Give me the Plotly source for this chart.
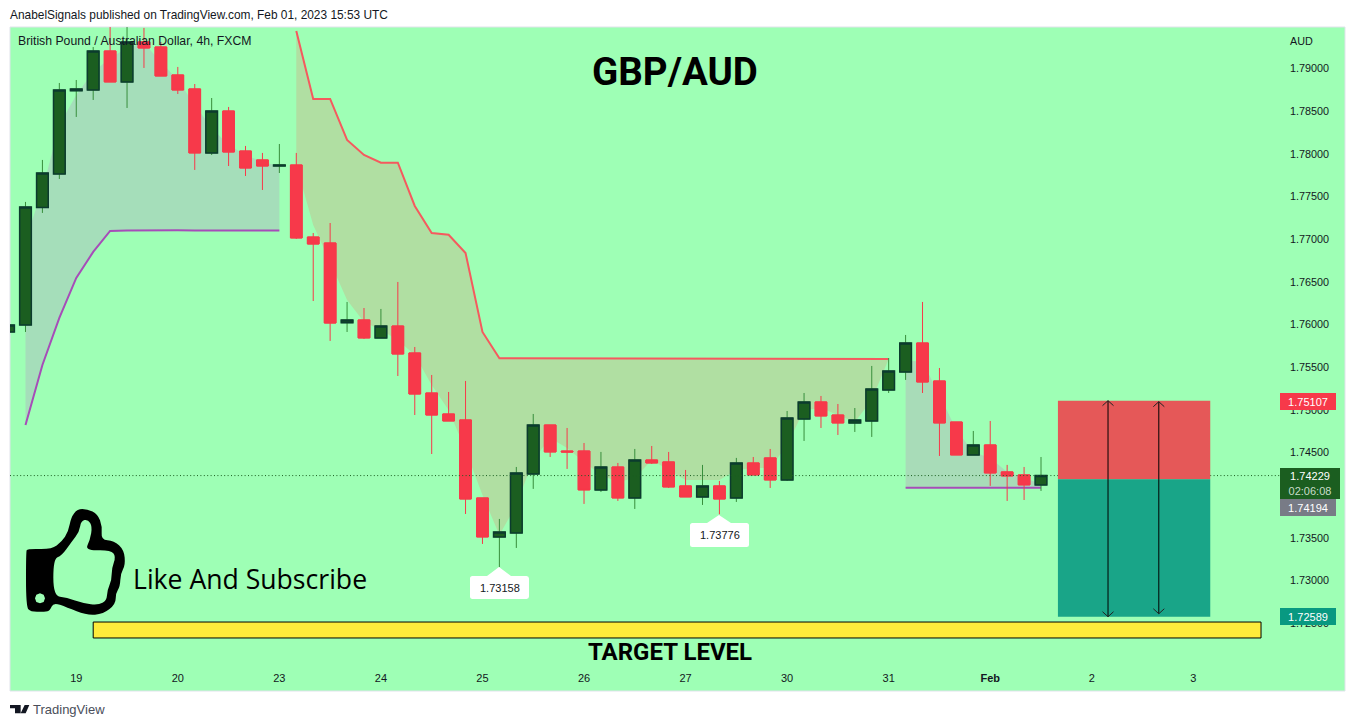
import plotly.graph_objects as go

W, H = 1354, 727
FONT = "Liberation Sans"
BG = "#9EFFB5"

# ---------- candle data (4h bars, index = bar number) ----------
idx = list(range(-1, 61))
open_ = [1.75912,1.75994,1.77371,1.77764,1.78740,1.78748,1.79205,1.78842,1.79311,1.79252,1.78924,1.78760,1.78010,1.78502,1.78033,1.77928,1.77857,1.77869,1.77025,1.76955,1.76021,1.76053,1.75842,1.75982,1.75666,1.75197,1.74951,1.74881,1.73967,1.73510,1.73557,1.74248,1.74822,1.74517,1.74517,1.74061,1.74330,1.73967,1.74412,1.74389,1.74108,1.73979,1.74108,1.73967,1.74377,1.74436,1.74178,1.74892,1.75092,1.74939,1.74846,1.74869,1.75232,1.75443,1.75783,1.75338,1.74857,1.74471,1.74588,1.74272,1.74237,1.74120]
high_ = [1.75994,1.77436,1.77928,1.78830,1.78865,1.79252,1.79568,1.79545,1.79475,1.79311,1.79018,1.78818,1.78654,1.78549,1.78092,1.78010,1.78115,1.78010,1.77072,1.77189,1.76264,1.76193,1.76182,1.76498,1.75736,1.75408,1.75209,1.75338,1.73967,1.73721,1.74330,1.74951,1.74822,1.74787,1.74611,1.74506,1.74377,1.74541,1.74576,1.74506,1.74295,1.74354,1.74166,1.74436,1.74447,1.74541,1.74986,1.75197,1.75162,1.75068,1.75021,1.75514,1.75607,1.75877,1.76264,1.75490,1.74857,1.74752,1.74869,1.74354,1.74330,1.74447]
low_ = [1.75912,1.75912,1.77307,1.77705,1.78432,1.78631,1.78842,1.78537,1.79006,1.78912,1.78701,1.77811,1.77986,1.77857,1.77740,1.77576,1.77775,1.77002,1.76275,1.75807,1.75912,1.75830,1.75842,1.75396,1.74939,1.74482,1.74869,1.73779,1.73428,1.73158,1.73381,1.74073,1.74447,1.74307,1.73897,1.74037,1.73932,1.73838,1.74365,1.74084,1.73979,1.73885,1.73776,1.73920,1.74237,1.74084,1.74166,1.74635,1.74787,1.74705,1.74740,1.74682,1.75197,1.75350,1.75197,1.74459,1.74471,1.74471,1.74108,1.73932,1.73943,1.74049]
close_ = [1.75994,1.77377,1.77775,1.78748,1.78760,1.79205,1.78842,1.79311,1.79240,1.78912,1.78748,1.78010,1.78502,1.78021,1.77834,1.77857,1.77869,1.77014,1.76943,1.76017,1.76053,1.75842,1.75982,1.75654,1.75185,1.74939,1.74869,1.73955,1.73510,1.73568,1.74260,1.74822,1.74506,1.74506,1.74061,1.74330,1.73967,1.74412,1.74377,1.74096,1.73979,1.74108,1.73955,1.74377,1.74237,1.74178,1.74904,1.75092,1.74928,1.74846,1.74881,1.75244,1.75455,1.75783,1.75326,1.74846,1.74471,1.74588,1.74260,1.74225,1.74120,1.74229]

# ---------- indicator bands ----------
band1_x = list(range(0, 16))
band1_low = [1.74822,1.75525,1.76076,1.76545,1.76850,1.77096,1.77100,1.77104,1.77104,1.77104,1.77102,1.77102,1.77102,1.77102,1.77102,1.77102]
band1_up = [1.76990,1.77576,1.78338,1.78689,1.78959,1.79123,1.79240,1.79299,1.79076,1.78865,1.78572,1.78303,1.78104,1.77986,1.77904,1.77857]

band2_x = list(range(16, 52))
band2_up = [1.79439,1.78643,1.78643,1.78162,1.77986,1.77896,1.77896,1.77389,1.77072,1.77052,1.76838,1.75912,1.75604,1.75604,1.75604,1.75604,1.75604,1.75604,1.75604,1.75604,1.75604,1.75604,1.75604,1.75604,1.75604,1.75596,1.75596,1.75596,1.75596,1.75596,1.75596,1.75596,1.75596,1.75596,1.75596,1.75596]
band2_low = [1.77869,1.77166,1.76732,1.76287,1.76029,1.75935,1.75818,1.75642,1.75291,1.74998,1.74529,1.74002,1.73533,1.73885,1.74412,1.74670,1.74553,1.74389,1.74237,1.74154,1.74201,1.74412,1.74295,1.74178,1.74178,1.74178,1.74295,1.74318,1.74318,1.74588,1.74998,1.75021,1.74939,1.74857,1.75115,1.75596]

band3_x = list(range(52, 61))
band3_low = [1.74087,1.74087,1.74087,1.74087,1.74087,1.74087,1.74087,1.74087,1.74087]
band3_up = [1.75584,1.75560,1.75174,1.74764,1.74506,1.74436,1.74272,1.74201,1.74131]

# ---------- levels ----------
last_price = 1.74229
entry_price = 1.74185
stop_price = 1.75107
target_price = 1.72575
pos_start, pos_end = 61, 70
arrow_bars = [63.96, 66.96]
arrow_tops = [1.75107, 1.75095]
arrow_bottoms = [1.72575, 1.72610]
bar_start, bar_end = 4, 73
bar_top, bar_bottom = 1.72513, 1.72326

# ---------- axis labels ----------
price_ticks = [1.725,1.73,1.735,1.74,1.745,1.75,1.755,1.76,1.765,1.77,1.775,1.78,1.785,1.79]
day_ticks = [3,9,15,21,27,33,39,45,51,57,63,69]
day_labels = ["19","20","23","24","25","26","27","30","31","<b>Feb</b>","2","3"]

XRANGE = [-0.915, 74.18]
YRANGE = [1.72021, 1.79486]
DOMX = [10/W, 1281/W]
DOMY = [1-664/H, 1-27/H]

def X(p): return p/W
def Y(p): return 1-p/H
def path(pts, close=True):
    s = "M" + " L".join(f"{X(a):.5f},{Y(b):.5f}" for a, b in pts)
    return s + (" Z" if close else "")
def smooth(pts):
    n = len(pts)
    mid = lambda p, q: ((p[0]+q[0])/2, (p[1]+q[1])/2)
    m0 = mid(pts[-1], pts[0])
    s = f"M{X(m0[0]):.5f},{Y(m0[1]):.5f}"
    for i in range(n):
        m = mid(pts[i], pts[(i+1) % n])
        s += f" Q{X(pts[i][0]):.5f},{Y(pts[i][1]):.5f} {X(m[0]):.5f},{Y(m[1]):.5f}"
    return s + " Z"

fig = go.Figure()

# bands on the primary axes
def band(x, low, up, lowline, upline, fill):
    fig.add_trace(go.Scatter(x=x, y=low, mode="lines", hoverinfo="skip",
        line=dict(color=lowline or "rgba(0,0,0,0)", width=2 if lowline else 0)))
    fig.add_trace(go.Scatter(x=x, y=up, mode="lines", hoverinfo="skip", fill="tonexty", fillcolor=fill,
        line=dict(color=upline or "rgba(0,0,0,0)", width=2 if upline else 0)))

band(band1_x, band1_low, band1_up, "#A64DB8", None, "#A5DEBA")
band(band2_x, band2_low, band2_up, None, "#F55A5E", "#B0DFA2")
band(band3_x, band3_low, band3_up, "#A64DB8", None, "#A8DCB8")

# candles on an overlaying pair of axes so they sit above the bands
fig.add_trace(go.Candlestick(x=idx, open=open_, high=high_, low=low_, close=close_,
    xaxis="x2", yaxis="y2", whiskerwidth=0, hoverinfo="skip",
    increasing=dict(line=dict(color="#388E3C", width=1), fillcolor="rgba(0,0,0,0)"),
    decreasing=dict(line=dict(color="#F7394A", width=1), fillcolor="rgba(0,0,0,0)")))
body_hi = [max(a, b) for a, b in zip(open_, close_)]
body_lo = [min(a, b) for a, b in zip(open_, close_)]
fig.add_trace(go.Candlestick(x=idx, open=open_, high=body_hi, low=body_lo, close=close_,
    xaxis="x2", yaxis="y2", whiskerwidth=0, hoverinfo="skip",
    increasing=dict(line=dict(color="#0B3B2E", width=1.5), fillcolor="#1B5E20"),
    decreasing=dict(line=dict(color="#F7394A", width=1), fillcolor="#F7394A")))

shapes = [
    dict(type="rect", xref="paper", yref="paper", x0=X(10), x1=X(1345), y0=Y(691), y1=Y(27),
         fillcolor=BG, line=dict(color="#E0E3EB", width=1), layer="below"),
    dict(type="line", xref="paper", yref="y", x0=X(10), x1=X(1280), y0=last_price, y1=last_price,
         line=dict(color="#1B5E20", width=1, dash="1px,2.4px"), layer="above"),
    dict(type="rect", xref="x", yref="y", x0=pos_start, x1=pos_end, y0=entry_price, y1=stop_price,
         fillcolor="#E55858", line=dict(width=0), layer="above"),
    dict(type="rect", xref="x", yref="y", x0=pos_start, x1=pos_end, y0=target_price, y1=entry_price,
         fillcolor="#19A588", line=dict(width=0), layer="above"),
    dict(type="rect", xref="x", yref="y", x0=bar_start, x1=bar_end, y0=bar_bottom, y1=bar_top,
         fillcolor="#FFEB3B", line=dict(color="black", width=1), layer="above"),
]

# double-headed arrows with open heads
for xa, top, bottom in zip(arrow_bars, arrow_tops, arrow_bottoms):
    shapes.append(dict(type="line", xref="x", yref="y", x0=xa, x1=xa, y0=bottom, y1=top,
                       line=dict(color="black", width=1), layer="above"))
    shapes.append(dict(type="path", xref="x", yref="y", xsizemode="pixel", ysizemode="pixel",
                       xanchor=xa, yanchor=top, path="M-5.5,-5 L0,0 L5.5,-5",
                       line=dict(color="#222222", width=1), layer="above"))
    shapes.append(dict(type="path", xref="x", yref="y", xsizemode="pixel", ysizemode="pixel",
                       xanchor=xa, yanchor=bottom, path="M-5.5,5 L0,0 L5.5,5",
                       line=dict(color="#222222", width=1), layer="above"))

# white price callouts
def callout(x0, x1, y0, y1, ax, ay):
    r = 2.5
    pts = (f"M{X(x0+r):.5f},{Y(y0):.5f} L{X(ax-12):.5f},{Y(y0):.5f} L{X(ax):.5f},{Y(ay):.5f} "
           f"L{X(ax+12):.5f},{Y(y0):.5f} L{X(x1-r):.5f},{Y(y0):.5f} "
           f"Q{X(x1):.5f},{Y(y0):.5f} {X(x1):.5f},{Y(y0+r):.5f} L{X(x1):.5f},{Y(y1-r):.5f} "
           f"Q{X(x1):.5f},{Y(y1):.5f} {X(x1-r):.5f},{Y(y1):.5f} L{X(x0+r):.5f},{Y(y1):.5f} "
           f"Q{X(x0):.5f},{Y(y1):.5f} {X(x0):.5f},{Y(y1-r):.5f} L{X(x0):.5f},{Y(y0+r):.5f} "
           f"Q{X(x0):.5f},{Y(y0):.5f} {X(x0+r):.5f},{Y(y0):.5f} Z")
    return dict(type="path", xref="paper", yref="paper", path=pts, fillcolor="white",
                line=dict(width=0), layer="above")
shapes.append(callout(470, 529, 576, 599, 499, 567))
shapes.append(callout(690, 749, 523, 547, 719, 515))

# thumbs-up icon, outline
def z(pts): return [(a/3, 490+b/3) for a, b in pts]
outer = z([(78,186),(82,176),(155,178),(185,155),(205,125),(213,82),(232,57),(262,57),(293,72),(307,110),(303,150),(342,152),(372,180),(376,225),(362,250),(360,290),(347,310),(347,342),(310,372),(260,376),(200,352),(160,337),(150,362),(135,365),(92,366),(78,350)])
inner = z([(160,207),(185,197),(215,155),(238,125),(243,92),(264,88),(277,110),(270,150),(255,182),(332,180),(348,200),(335,235),(335,270),(322,300),(320,332),(295,345),(250,340),(200,323),(160,318)])
hole = z([(120,310),(131,314),(135,325),(131,336),(120,340),(109,336),(105,325),(109,314)])
shapes.append(dict(type="path", xref="paper", yref="paper", layer="above",
    path=smooth(outer)+" "+smooth(inner)+" "+path(hole), fillcolor="black", fillrule="evenodd",
    line=dict(width=0)))

# TradingView mark
logo_a = z([(30,645),(62,645),(62,670),(45,670),(45,655),(30,655)])
logo_b = z([(74,645),(88,645),(77,670),(62,670)])
shapes.append(dict(type="path", xref="paper", yref="paper", layer="above",
    path=path(logo_a)+" "+path(logo_b), fillcolor="#131722", line=dict(width=0)))

ann = []
def text(px, py, t, size=12, color="#131722", anchor="left", family=FONT):
    ann.append(dict(xref="paper", yref="paper", x=X(px), y=Y(py), text=t, showarrow=False,
        xanchor=anchor, yanchor="middle", font=dict(family=family, size=size, color=color)))

text(8, 15, "AnabelSignals published on TradingView.com, Feb 01, 2023 15:53 UTC", 11.9)
text(16, 41.5, "British Pound / Australian Dollar, 4h, FXCM", 12.25)
text(1288, 41, "AUD", 10.8)
text(675, 71, "<b>GBP/AUD</b>", 38.5, "black", "center", "Roboto")
text(130.5, 579, "Like And Subscribe", 26.6, "black", "left", "Open Sans")
text(670, 652, "<b>TARGET LEVEL</b>", 24, "black", "center", "Roboto")
text(31, 709, "TradingView", 13, "#4A4E5A")
text(499.5, 588, "1.73158", 11, "#131722", "center")
text(719.5, 535, "1.73776", 11, "#131722", "center")

def tag(py0, py1, x1, t, bg):
    ann.append(dict(xref="paper", yref="paper", x=X(1280), y=Y((py0+py1)/2), text=t, showarrow=False,
        xanchor="left", yanchor="middle", width=x1-1280, height=py1-py0, bgcolor=bg, align="center",
        valign="middle", borderpad=0, borderwidth=0, font=dict(family=FONT, size=11, color="white")))

tag(393, 410, 1336, "1.75107", "#F7394A")
tag(468, 499, 1340, "1.74229<br><span style='color:#C8DCC9'>02:06:08</span>", "#1B5E20")
tag(499, 516, 1336, "1.74194", "#787B86")
tag(608, 625, 1336, "1.72589", "#089981")

fig.update_layout(
    width=W, height=H, autosize=False, margin=dict(l=0, r=0, t=0, b=0, pad=0),
    paper_bgcolor="white", plot_bgcolor="rgba(0,0,0,0)", showlegend=False, boxgap=0.31, boxgroupgap=0,
    shapes=shapes, annotations=ann, hovermode=False,
    font=dict(family=FONT, size=11, color="#131722"),
    xaxis=dict(domain=DOMX, range=XRANGE, showgrid=False, zeroline=False, showline=False, ticks="",
               tickmode="array", tickvals=day_ticks, ticktext=day_labels, ticklabelstandoff=6,
               tickfont=dict(family=FONT, size=11, color="#131722"), rangeslider=dict(visible=False)),
    yaxis=dict(domain=DOMY, range=YRANGE, side="right", showgrid=False, zeroline=False, showline=False, ticks="",
               tickmode="array", tickvals=price_ticks, tickformat=".5f", ticklabelstandoff=8,
               tickfont=dict(family=FONT, size=10.8, color="#131722")),
    xaxis2=dict(overlaying="x", range=XRANGE, visible=False, rangeslider=dict(visible=False)),
    yaxis2=dict(overlaying="y", range=YRANGE, visible=False),
)

fig.write_html("out.html", config=dict(displayModeBar=False),
               post_script="document.body.style.margin='0';document.body.style.overflow='hidden';")
